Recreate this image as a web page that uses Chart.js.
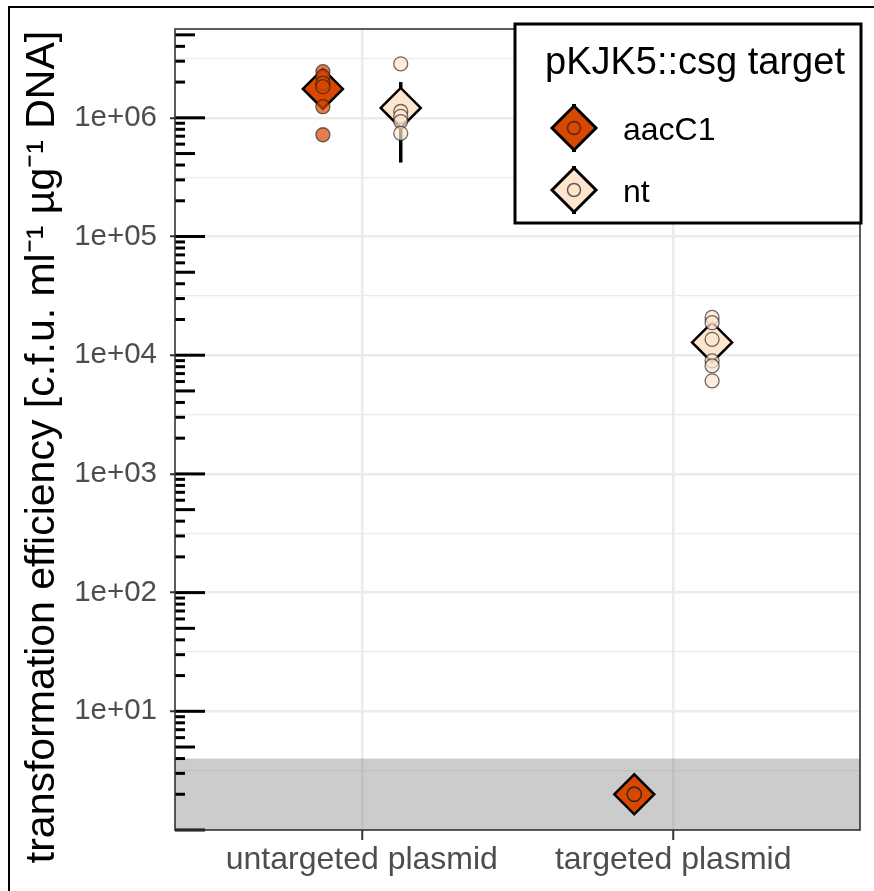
<!DOCTYPE html>
<html>
<head>
<meta charset="utf-8">
<script src="https://cdn.jsdelivr.net/npm/chart.js@4.4.1/dist/chart.umd.min.js"></script>
<style>
    html, body { margin: 0; padding: 0; background: #fff; overflow: hidden; }
    #frame { position: absolute; left: 8px; top: 6px; width: 900px; height: 900px; border-left: 2px solid #000; border-top: 2px solid #000; }
    #wrap { position: absolute; left: 0; top: 0; width: 874px; height: 891px; }
</style>
</head>
<body>
<div id="frame"></div>
<div id="wrap"><canvas id="effChart" width="874" height="891"></canvas></div>
<script>
const categories = ['untargeted plasmid', 'targeted plasmid'];
const groups = ['aacC1', 'nt'];
const groupFill = ['#d94801', '#fee6ce'];
const groupPointFill = ['rgba(217, 72, 1, 0.7)', 'rgba(254, 230, 206, 0.7)'];
const dodge = [-0.125, 0.125];

// replicate values per category (untargeted, targeted)
const aacC1Replicates = [[2.45e6, 2.23e6, 1.96e6, 1.83e6, 1.24e6, 7.2e5], [2, 2, 2]];
const ntReplicates = [[2.85e6, 1.13e6, 1.03e6, 9.3e5, 7.4e5], [2.08e4, 1.88e4, 1.36e4, 8.96e3, 8.13e3, 6.08e3]];

// mean and error bar per category
const aacC1Mean = [1.75e6, 2];
const aacC1Low = [1.35e6, null];
const aacC1High = [2.15e6, null];
const ntMean = [1.21e6, 1.28e4];
const ntLow = [4.2e5, 1.0e4];
const ntHigh = [2.0e6, 1.6e4];

const detectionLimit = 4;
const yMin = 1;
const yMax = 5.6e6;
const yTickValues = [1e1, 1e2, 1e3, 1e4, 1e5, 1e6];
const yTitle = 'transformation efficiency [c.f.u. ml⁻¹ µg⁻¹ DNA]';
const legendTitle = 'pKJK5::csg target';

const FONT = '"Liberation Sans", Arial, Helvetica, sans-serif';

const replicates = [aacC1Replicates, ntReplicates];
const means = [aacC1Mean, ntMean];
const lows = [aacC1Low, ntLow];
const highs = [aacC1High, ntHigh];

function fmtTick(v) {
    const e = Math.round(Math.log10(v));
    return '1e+' + String(e).padStart(2, '0');
}

// grid lines at decades and half decades
const gridValues = [];
for (let e = 0; e <= 6; e++) {
    if (e > 0) gridValues.push(Math.pow(10, e));
    gridValues.push(Math.pow(10, e + 0.5));
}

function noPadding(s) {
    s.paddingTop = 0;
    s.paddingBottom = 0;
    s.paddingLeft = 0;
    s.paddingRight = 0;
}

const datasets = [];
groups.forEach(function(g, gi) {
    // error bars
    categories.forEach(function(c, ci) {
        if (lows[gi][ci] === null) return;
        datasets.push({
            type: 'line',
            data: [{ x: ci + 1 + dodge[gi], y: lows[gi][ci] }, { x: ci + 1 + dodge[gi], y: highs[gi][ci] }],
            borderColor: '#000',
            borderWidth: 3.5,
            pointRadius: 0,
            fill: false,
            order: 3
        });
    });
    // mean diamonds
    datasets.push({
        type: 'scatter',
        label: g,
        data: categories.map((c, ci) => ({ x: ci + 1 + dodge[gi], y: means[gi][ci] })),
        pointStyle: 'rectRot',
        pointRadius: 20,
        backgroundColor: groupFill[gi],
        borderColor: '#000',
        borderWidth: 2.5,
        order: 2
    });
    // replicate points
    const pts = [];
    categories.forEach(function(c, ci) {
        replicates[gi][ci].forEach(v => pts.push({ x: ci + 1 + dodge[gi], y: v }));
    });
    datasets.push({
        type: 'scatter',
        data: pts,
        pointStyle: 'circle',
        pointRadius: 7,
        backgroundColor: groupPointFill[gi],
        borderColor: 'rgba(30, 30, 30, 0.65)',
        borderWidth: 1.3,
        order: 1
    });
});

const panelPlugin = {
    id: 'panel',
    beforeDatasetsDraw(chart) {
        const { ctx, chartArea: a, scales: { y } } = chart;
        const yTop = y.getPixelForValue(detectionLimit);
        ctx.save();
        ctx.fillStyle = 'rgba(128, 128, 128, 0.4)';
        ctx.fillRect(a.left, yTop, a.right - a.left, a.bottom - yTop);
        ctx.restore();
    },
    afterDatasetsDraw(chart) {
        const { ctx, chartArea: a, scales: { y } } = chart;
        ctx.save();
        // log ticks inside the panel
        ctx.strokeStyle = '#000';
        ctx.lineWidth = 3;
        for (let e = 0; e <= 6; e++) {
            for (let k = 1; k <= 9; k++) {
                const v = k * Math.pow(10, e);
                if (v < yMin || v > yMax) continue;
                const py = y.getPixelForValue(v);
                const len = k === 1 ? 30 : (k === 5 ? 20 : 10);
                ctx.beginPath();
                ctx.moveTo(a.left, py);
                ctx.lineTo(a.left + len, py);
                ctx.stroke();
            }
        }
        // panel border
        ctx.strokeStyle = '#333';
        ctx.lineWidth = 1.6;
        ctx.strokeRect(a.left, a.top, a.right - a.left, a.bottom - a.top);
        ctx.restore();
    },
    afterDraw(chart) {
        const { ctx, chartArea: a } = chart;
        ctx.save();
        // y axis title
        ctx.translate(54, 447);
        ctx.rotate(-Math.PI / 2);
        ctx.textAlign = 'center';
        ctx.textBaseline = 'alphabetic';
        ctx.fillStyle = '#000';
        ctx.font = '41px ' + FONT;
        ctx.fillText(yTitle, 0, 0);
        ctx.restore();

        // legend
        const bx = a.right - 345, by = a.top - 5, bw = 346, bh = 199;
        ctx.save();
        ctx.fillStyle = '#fff';
        ctx.fillRect(bx, by, bw, bh);
        ctx.lineWidth = 3;
        ctx.strokeStyle = '#000';
        ctx.strokeRect(bx, by, bw, bh);
        ctx.fillStyle = '#000';
        ctx.textBaseline = 'alphabetic';
        ctx.font = '38px ' + FONT;
        ctx.fillText(legendTitle, bx + 30, by + 50);
        groups.forEach(function(g, i) {
            const cx = bx + 59, cy = by + 104 + i * 62;
            ctx.strokeStyle = '#000';
            ctx.beginPath();
            ctx.moveTo(cx, cy - 24);
            ctx.lineTo(cx, cy + 24);
            ctx.lineWidth = 4;
            ctx.stroke();
            ctx.beginPath();
            ctx.moveTo(cx - 22, cy);
            ctx.lineTo(cx, cy - 22);
            ctx.lineTo(cx + 22, cy);
            ctx.lineTo(cx, cy + 22);
            ctx.closePath();
            ctx.fillStyle = groupFill[i];
            ctx.fill();
            ctx.lineWidth = 3;
            ctx.stroke();
            ctx.beginPath();
            ctx.arc(cx, cy, 6.5, 0, Math.PI * 2);
            ctx.fillStyle = groupPointFill[i];
            ctx.fill();
            ctx.lineWidth = 1.5;
            ctx.strokeStyle = 'rgba(30, 30, 30, 0.7)';
            ctx.stroke();
            ctx.fillStyle = '#000';
            ctx.font = '32px ' + FONT;
            ctx.fillText(g, bx + 108, cy + 12);
        });
        ctx.restore();
    }
};

new Chart(document.getElementById('effChart').getContext('2d'), {
    type: 'scatter',
    data: { datasets: datasets },
    plugins: [panelPlugin],
    options: {
        responsive: false,
        animation: false,
        layout: { autoPadding: false, padding: { top: 29, right: 14, left: 0, bottom: 0 } },
        plugins: { legend: { display: false }, tooltip: { enabled: false } },
        scales: {
            x: {
                type: 'linear',
                min: 0.4,
                max: 2.6,
                afterBuildTicks: s => { s.ticks = categories.map((c, i) => ({ value: i + 1 })); },
                afterFit: s => { s.height = 61; noPadding(s); },
                ticks: {
                    autoSkip: false,
                    maxRotation: 0,
                    color: '#4d4d4d',
                    font: { size: 32, family: FONT },
                    padding: 1,
                    callback: v => categories[Math.round(v) - 1]
                },
                grid: { color: '#ebebeb', lineWidth: 2.5, tickLength: 10, tickColor: '#333', tickWidth: 2 },
                border: { display: false }
            },
            y: {
                type: 'logarithmic',
                min: yMin,
                max: yMax,
                afterBuildTicks: s => { s.ticks = gridValues.map(v => ({ value: v })); },
                afterFit: s => { s.width = 175; noPadding(s); },
                ticks: {
                    autoSkip: false,
                    color: '#4d4d4d',
                    font: { size: 29.5, family: FONT },
                    padding: 13,
                    callback: v => yTickValues.includes(v) ? fmtTick(v) : ''
                },
                grid: {
                    color: '#ebebeb',
                    lineWidth: c => yTickValues.includes(c.tick.value) ? 2.5 : 1.2,
                    tickLength: 5,
                    tickWidth: 2,
                    tickColor: c => yTickValues.includes(c.tick.value) ? '#333' : 'rgba(0,0,0,0)'
                },
                border: { display: false }
            }
        }
    }
});
</script>
</body>
</html>
